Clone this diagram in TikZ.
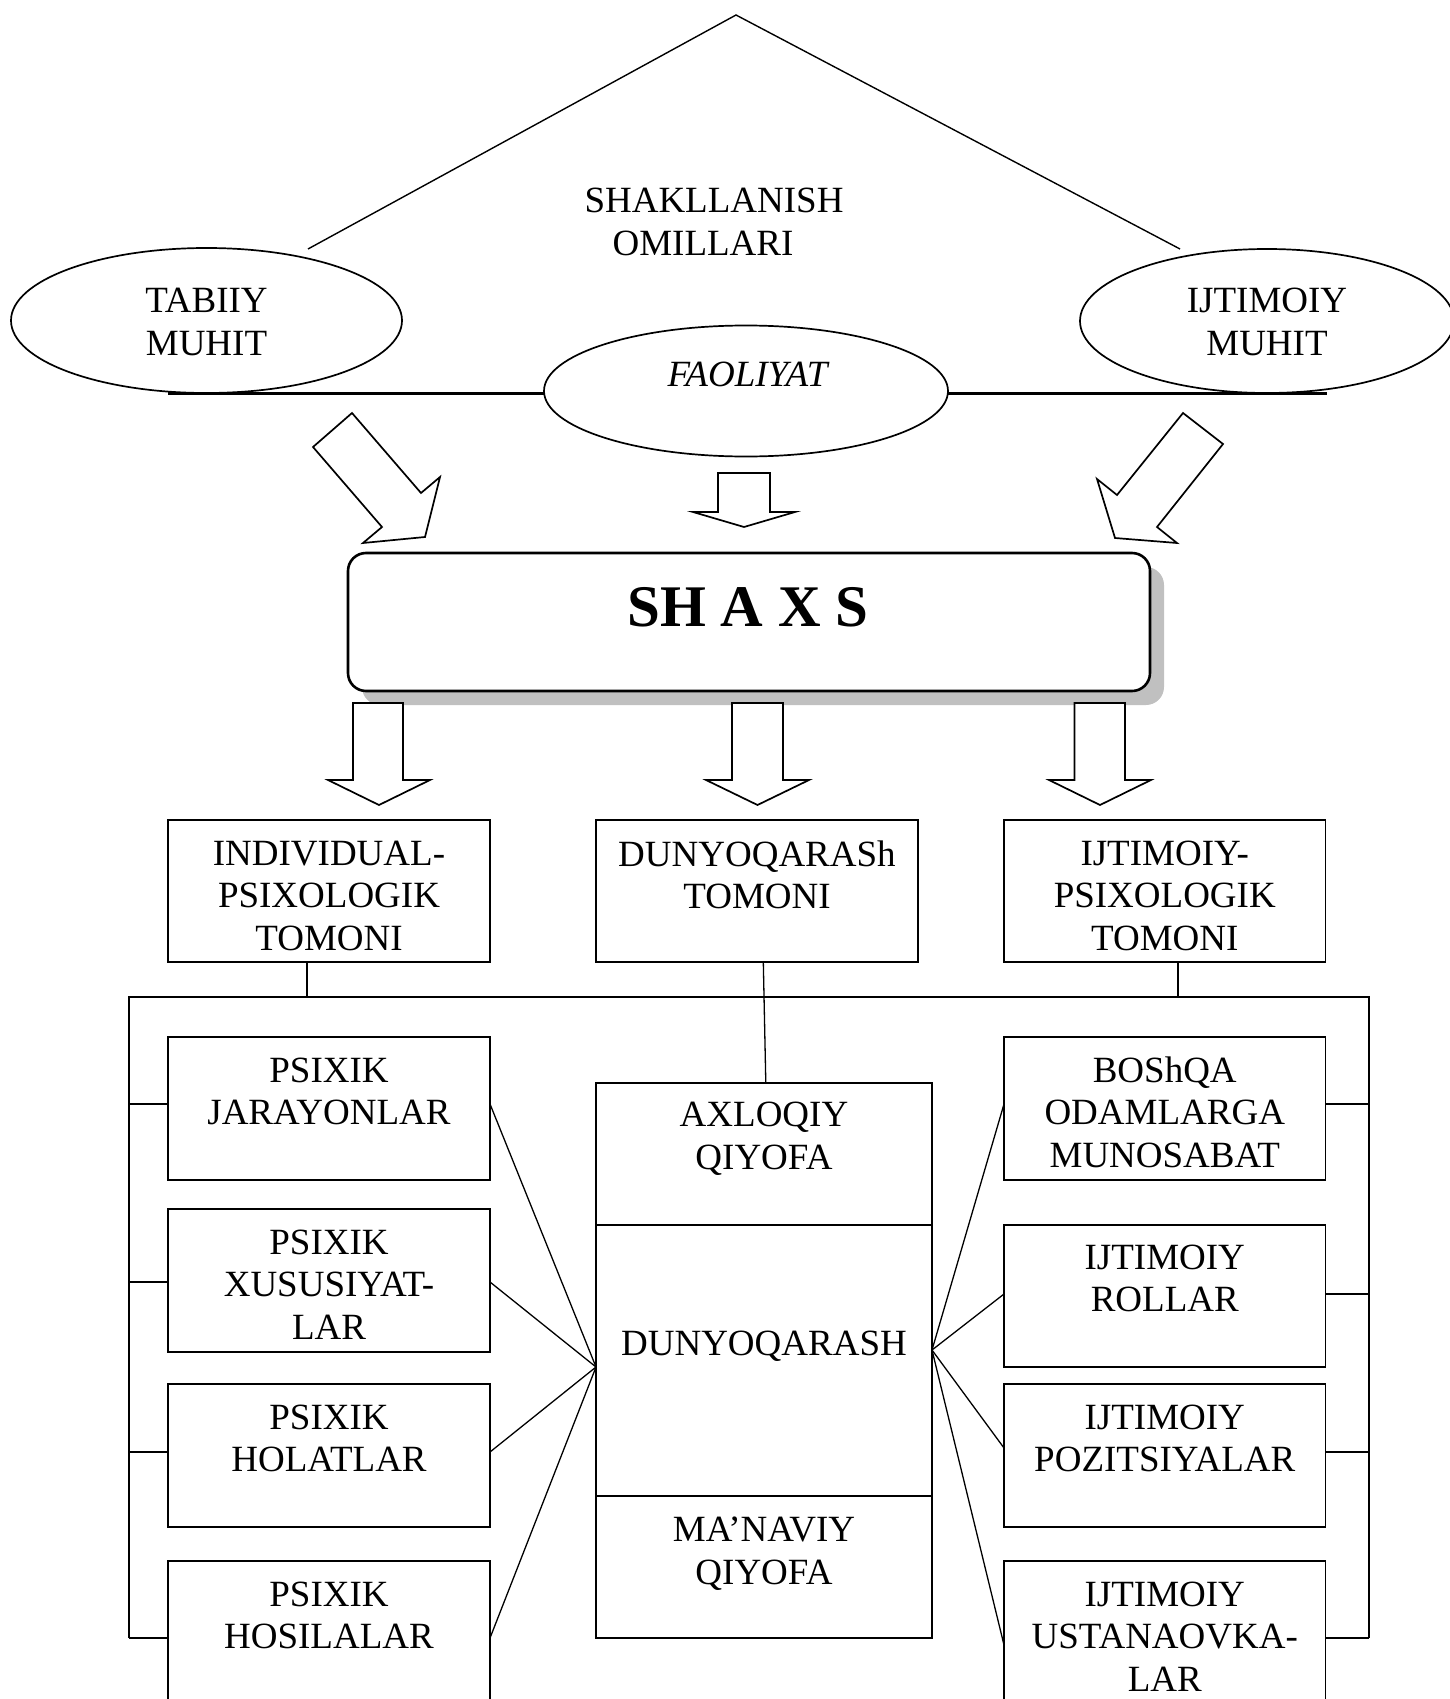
\documentclass[tikz,border=0pt]{standalone}
\usepackage{fontspec}
\setmainfont{Liberation Serif}
\usetikzlibrary{shapes.geometric}
\definecolor{shadowgray}{RGB}{192,192,192}
\begin{document}
\begin{tikzpicture}[x=1pt,y=-1pt,
  box/.style={draw, line width=1.7pt, rectangle, inner sep=0pt, outer sep=0pt},
  oval/.style={draw, ellipse, line width=1.7pt, inner sep=0pt, outer sep=0pt},
  txt/.style={inner sep=0pt, outer sep=0pt, align=center, font=\fontsize{37}{42.5}\selectfont},
  thinline/.style={line width=1.3pt},
  blk/.style={draw, fill=white, line width=1.7pt, line join=miter}]
\useasboundingbox (0,0) rectangle (1450,1699);

% ---------- top: triangle, ellipses ----------
\coordinate (apex) at (736,15);
\coordinate (triL) at (308,249);
\coordinate (triR) at (1180,249);
\draw[line width=1.4pt] (triL) -- (apex) -- (triR);

\coordinate (baseL) at (168,393.5);
\coordinate (baseR) at (1327,393.5);
\draw[line width=2.4pt] (baseL) -- (baseR);

\node[oval, minimum width=391pt, minimum height=145pt] (tab) at (206.5,320.5) {};
\node[oval, minimum width=374pt, minimum height=144pt] (ijt) at (1267,321) {};
\node[oval, fill=white, minimum width=404pt, minimum height=131pt] (fao) at (746,391) {};

\node[txt, anchor=north] (tShak) at (714,188.5) {SHAKLLANISH\\OMILLARI\kern22pt};
\node[txt, anchor=north] (tTab) at (206.5,288.3) {TABIIY\\MUHIT};
\node[txt, anchor=north] (tIjt) at (1267,288.3) {IJTIMOIY\\MUHIT};
\node[txt, anchor=base, font={\fontsize{37}{42.5}\selectfont\itshape}] (tFao) at (747.5,386.7) {FAOLIYAT};

% ---------- arrows into SHAXS ----------
\draw[blk] (352,413) -- (313,447) -- (382,527) -- (363,543) -- (425,537) -- (440,477) -- (421,493) -- cycle;
\draw[blk] (1183,413) -- (1223,444) -- (1157,527) -- (1177,543) -- (1115,538) -- (1097,479) -- (1117,495) -- cycle;
\draw[blk] (718,473) -- (770,473) -- (770,512) -- (795,512) -- (744,527) -- (693,512) -- (718,512) -- cycle;

% ---------- SHAXS ----------
\fill[shadowgray, rounded corners=18pt] (362,567) rectangle (1164,705);
\node[draw, fill=white, line width=2.6pt, rounded corners=18pt, inner sep=0pt,
      minimum width=802pt, minimum height=138pt] (shaxs) at (749,622) {};
\node[anchor=base, inner sep=0pt, font={\fontsize{59}{60}\selectfont\bfseries}] (tShaxs) at (748,626.7) {SH A X S};

% ---------- arrows out of SHAXS ----------
\draw[blk] (353,703) -- (403,703) -- (403,780) -- (430,780) -- (379,805) -- (328,780) -- (353,780) -- cycle;
\draw[blk] (732,703) -- (783,703) -- (783,780) -- (809,780) -- (757.5,805) -- (706,780) -- (732,780) -- cycle;
\draw[blk] (1074.5,703) -- (1125,703) -- (1125,780) -- (1151,780) -- (1100,805) -- (1049,780) -- (1074.5,780) -- cycle;

% ---------- second row boxes ----------
\node[box, minimum width=322pt, minimum height=142pt] (bI) at (329,891) {};
\node[box, minimum width=322pt, minimum height=142pt] (bD) at (757,891) {};
\node[box, minimum width=321.5pt, minimum height=142pt] (bP) at (1164.75,891) {};
\node[txt, anchor=north] (tI) at (329,840.8) {INDIVIDUAL-\\PSIXOLOGIK\\TOMONI};
\node[txt, anchor=north] (tD) at (757,840.8) {DUNYOQARASh\\TOMONI};
\node[txt, anchor=north] (tP) at (1164.75,840.8) {IJTIMOIY-\\PSIXOLOGIK\\TOMONI};

% ---------- left column ----------
\node[box, minimum width=322pt, minimum height=143pt] (bJ) at (329,1108.5) {};
\node[box, minimum width=322pt, minimum height=143pt] (bX) at (329,1280.5) {};
\node[box, minimum width=322pt, minimum height=143pt] (bH) at (329,1455.5) {};
\node[box, minimum width=322pt, minimum height=143pt] (bS) at (329,1632.5) {};
\node[txt, anchor=north] (tJ) at (329,1057.8) {PSIXIK\\JARAYONLAR};
\node[txt, anchor=north] (tX) at (329,1229.8) {PSIXIK\\XUSUSIYAT-\\LAR};
\node[txt, anchor=north] (tH) at (329,1404.8) {PSIXIK\\HOLATLAR};
\node[txt, anchor=north] (tS) at (329,1581.8) {PSIXIK\\HOSILALAR};

% ---------- right column ----------
\node[box, minimum width=321.5pt, minimum height=143pt] (bB) at (1164.75,1108.5) {};
\node[box, minimum width=321.5pt, minimum height=142pt] (bR) at (1164.75,1296) {};
\node[box, minimum width=321.5pt, minimum height=143pt] (bZ) at (1164.75,1455.5) {};
\node[box, minimum width=321.5pt, minimum height=143pt] (bU) at (1164.75,1632.5) {};
\node[txt, anchor=north] (tB) at (1164.75,1056.8) {BOShQA\\ODAMLARGA\\MUNOSABAT};
\node[txt, anchor=north] (tR) at (1164.75,1244.8) {IJTIMOIY\\ROLLAR};
\node[txt, anchor=north] (tZ) at (1164.75,1404.8) {IJTIMOIY\\POZITSIYALAR};
\node[txt, anchor=north] (tU) at (1164.75,1581.8) {IJTIMOIY\\USTANAOVKA-\\LAR};

% ---------- centre column ----------
\node[box, minimum width=336pt, minimum height=142.3pt] (bCa) at (764,1153.85) {};
\node[box, minimum width=336pt, minimum height=271pt] (bCd) at (764,1360.5) {};
\node[box, minimum width=336pt, minimum height=142pt] (bCm) at (764,1567) {};
\node[txt, anchor=north] (tCa) at (764,1102.3) {AXLOQIY\\QIYOFA};
\node[txt, anchor=base] (tCd) at (764,1355) {DUNYOQARASH};
\node[txt, anchor=north] (tCm) at (764,1517) {MA’NAVIY\\QIYOFA};

% ---------- bracket ----------
\coordinate (brTL) at (129,997);
\coordinate (brTR) at (1369,997);
\coordinate (brBL) at (129,1638);
\coordinate (brBR) at (1369,1638);
\draw[line width=1.8pt] (brBL) -- (brTL) -- (brTR) -- (brBR);

\coordinate (sI) at ([xshift=-22pt]bI.south);
\coordinate (sP) at ([xshift=13.3pt]bP.south);
\draw[thinline] (sI) -- (sI |- brTL);
\draw[thinline] (sP) -- (sP |- brTL);
\draw[thinline] ([xshift=6.3pt]bD.south) -- ([xshift=1.8pt]bCa.north);

% left stubs
\coordinate (lJ) at ([yshift=4.5pt]bJ.west);
\coordinate (lX) at ([yshift=-1.5pt]bX.west);
\coordinate (lH) at ([yshift=3.5pt]bH.west);
\coordinate (lS) at ([yshift=-5.5pt]bS.west);
\foreach \p in {lJ,lX,lH,lS} \draw[line width=2pt] (\p) -- (\p -| brTL);
% right stubs
\coordinate (rB) at ([yshift=4.5pt]bB.east);
\coordinate (rR) at ([yshift=2pt]bR.east);
\coordinate (rZ) at ([yshift=3.5pt]bZ.east);
\coordinate (rU) at ([yshift=-5.5pt]bU.east);
\foreach \p in {rB,rR,rZ,rU} \draw[line width=2pt] (\p) -- (\p -| brTR);

% fans
\coordinate (fanL) at ([yshift=-6.5pt]bCd.west);
\coordinate (fanR) at ([yshift=10.5pt]bCd.east);
\draw[thinline] ([yshift=4.5pt]bJ.east) -- (fanL);
\draw[thinline] ([yshift=-1.5pt]bX.east) -- (fanL);
\draw[thinline] ([yshift=3.5pt]bH.east) -- (fanL);
\draw[thinline] ([yshift=-5.5pt]bS.east) -- (fanL);
\draw[thinline] ([yshift=4.5pt]bB.west) -- (fanR);
\draw[thinline] ([yshift=2pt]bR.west) -- (fanR);
\draw[thinline] ([yshift=7.5pt]bZ.west) -- (fanR);
\draw[thinline] ([yshift=-12.5pt]bU.west) -- (fanR);
\end{tikzpicture}
\end{document}
